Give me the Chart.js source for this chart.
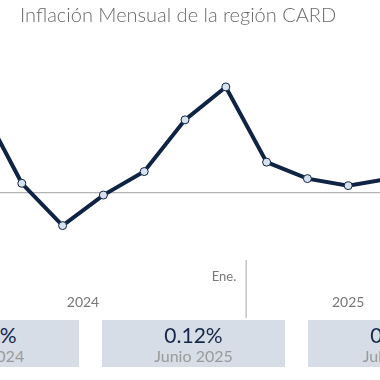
<!DOCTYPE html>
<html>
<head>
<meta charset="utf-8">
<script src="https://cdn.jsdelivr.net/npm/chart.js@4/dist/chart.umd.min.js"></script>
<style>
  html, body { margin: 0; padding: 0; width: 380px; height: 380px; overflow: hidden; background: #fff; }
  #title { position: absolute; left: 20px; top: 2px; font-family: Lato, "Open Sans", sans-serif; font-weight: 300; font-size: 20px; color: #6a6a6a; white-space: nowrap; z-index: 2; }
  #wrap { position: absolute; left: -19px; top: 0; width: 408px; height: 380px; z-index: 1; }
  .box { position: absolute; top: 320px; height: 47px; width: 183px; background: #d6dde6; text-align: center; font-family: Lato, "Open Sans", sans-serif; z-index: 3; }
  .box .v { font-size: 21px; color: #15284a; line-height: 21px; margin-top: 4px; }
  .box .l { font-size: 16px; color: #9a9a9a; line-height: 16px; margin-top: 3px; }
</style>
</head>
<body>
<div id="title">Inflación Mensual de la región CARD</div>
<div id="wrap"><canvas id="c"></canvas></div>
<div id="boxes"></div>
<script>
// ---- data ----
const months = ['Jun 2024','Jul 2024','Ago 2024','Sep 2024','Oct 2024','Nov 2024','Dic 2024','Ene 2025','Feb 2025','Mar 2025','Abr 2025'];
const inflation = [0.37, 0.04, -0.14, -0.01, 0.09, 0.31, 0.45, 0.13, 0.06, 0.03, 0.06];
const separatorLabel = 'Ene.';
const separatorAfterIndex = 6;          // boundary between Dic 2024 and Ene 2025
const yearLabels = ['2024', '2025'];
const yearLabelIndex = [2.5, 9];
const cardValues = ['0.04%', '0.12%', '0.00%'];
const cardLabels = ['Julio 2024', 'Junio 2025', 'Julio 2025'];

// ---- cards ----
const boxLefts = [-104, 102, 308];
const boxesEl = document.getElementById('boxes');
cardValues.forEach((v, i) => {
  const d = document.createElement('div');
  d.className = 'box';
  d.style.left = boxLefts[i] + 'px';
  d.innerHTML = '<div class="v"></div><div class="l"></div>';
  d.querySelector('.v').textContent = v;
  d.querySelector('.l').textContent = cardLabels[i];
  boxesEl.appendChild(d);
});

// ---- decorations plugin ----
const deco = {
  id: 'deco',
  beforeDatasetsDraw(chart) {
    const ctx = chart.ctx, y = chart.scales.y;
    const y0 = y.getPixelForValue(0);
    ctx.save();
    ctx.strokeStyle = '#b4b4b4';
    ctx.lineWidth = 1.2;
    ctx.beginPath();
    ctx.moveTo(0, y0); ctx.lineTo(chart.width, y0);
    ctx.stroke();
    ctx.restore();
  },
  afterDraw(chart) {
    const ctx = chart.ctx, x = chart.scales.x;
    const sx = (x.getPixelForValue(separatorAfterIndex) + x.getPixelForValue(separatorAfterIndex + 1)) / 2;
    ctx.save();
    ctx.strokeStyle = '#c4c4c4';
    ctx.lineWidth = 1.5;
    ctx.beginPath();
    ctx.moveTo(sx, 260); ctx.lineTo(sx, 318);
    ctx.stroke();
    ctx.fillStyle = '#777';
    ctx.font = '13px Lato, "Open Sans", sans-serif';
    ctx.textAlign = 'right';
    ctx.textBaseline = 'middle';
    ctx.fillText(separatorLabel, sx - 10, 277);
    ctx.font = '14px Lato, "Open Sans", sans-serif';
    ctx.textAlign = 'center';
    yearLabels.forEach((t, i) => {
      const idx = yearLabelIndex[i];
      const lo = Math.floor(idx), hi = Math.ceil(idx);
      const px = x.getPixelForValue(lo) + (x.getPixelForValue(hi) - x.getPixelForValue(lo)) * (idx - lo);
      ctx.fillText(t, px, 302);
    });
    ctx.restore();
  }
};

new Chart(document.getElementById('c'), {
  type: 'line',
  data: {
    labels: months,
    datasets: [{
      data: inflation,
      borderColor: '#0f2444',
      borderWidth: 4,
      pointRadius: 4,
      pointBorderWidth: 1,
      pointBackgroundColor: '#d8e1ef',
      pointBorderColor: '#0f2444',
      tension: 0,
      clip: false
    }]
  },
  options: {
    responsive: true,
    maintainAspectRatio: false,
    animation: false,
    layout: { autoPadding: false, padding: { left: 0, right: 0, top: 51.7, bottom: 116.8 } },
    plugins: { legend: { display: false }, tooltip: { enabled: false }, title: { display: false } },
    scales: {
      x: { display: false, offset: false },
      y: { display: false, min: -0.3, max: 0.6 }
    }
  },
  plugins: [deco]
});
</script>
</body>
</html>
